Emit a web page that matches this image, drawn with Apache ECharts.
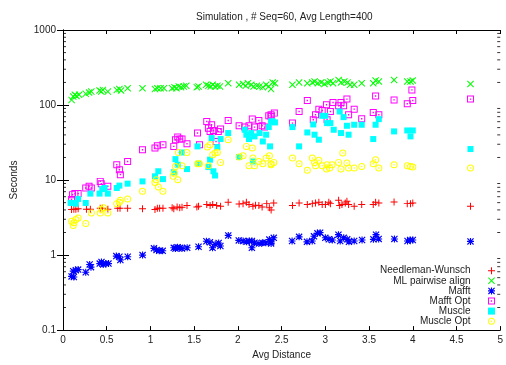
<!DOCTYPE html>
<html>
<head>
<meta charset="utf-8">
<script src="https://cdn.jsdelivr.net/npm/echarts@6/dist/echarts.min.js"></script>
<style>html,body{margin:0;padding:0;background:#fff}#c{width:506px;height:365px}</style>
</head>
<body>
<div id="c"></div>
<script>
var titleText = 'Simulation , # Seq=60, Avg Length=400';
var xName = 'Avg Distance';
var yName = 'Seconds';
var seriesNames = ['Needleman-Wunsch', 'ML pairwise align', 'Mafft', 'Mafft Opt', 'Muscle', 'Muscle Opt'];
var xTicks = [0, 0.5, 1, 1.5, 2, 2.5, 3, 3.5, 4, 4.5, 5];
var yTicks = [0.1, 1, 10, 100, 1000];
var yTickLabels = ['0.1', '1', '10', '100', '1000'];
var yMinorTicks = [0.2,0.3,0.4,0.5,0.6,0.7,0.8,0.9,2,3,4,5,6,7,8,9,20,30,40,50,60,70,80,90,200,300,400,500,600,700,800,900];

var needlemanWunsch = [
[0.098,4.04],[0.124,4.09],[0.147,4.09],[0.173,4.13],[0.268,4.09],[0.313,4.09],[0.426,4.2],[0.449,4.2],[0.513,4.09],[0.626,4.2],[0.652,4.2],[0.739,4.2],[0.909,4.13],[1.052,4.04],[1.079,4.2],[1.105,4.2],[1.143,4.2],
[1.248,4.26],[1.267,4.13],[1.305,4.38],[1.335,4.26],[1.361,4.33],[1.418,4.57],[1.531,4.38],[1.55,4.47],[1.644,4.71],[1.682,4.57],[1.712,4.71],[1.757,4.57],[1.802,4.47],[1.889,5.06],[2.014,4.8],[2.059,4.85],[2.097,5.06],[2.127,4.71],[2.172,4.47],[2.202,4.6],[2.24,4.57],[2.277,4.38],[2.33,4.85],[2.36,4.26],[2.38,4.0],
[2.41,4.95],[2.624,4.57],[2.70,4.95],[2.794,4.71],[2.851,4.85],[2.888,4.95],[2.926,5.06],[2.964,4.71],[3.001,4.71],[3.04,5.06],[3.058,4.85],[3.152,5.37],[3.164,4.57],[3.19,4.71],[3.228,4.95],[3.247,5.2],[3.266,4.71],[3.33,4.47],[3.416,4.71],
[3.548,4.71],[3.575,5.06],[3.612,4.95],[3.786,5.1],[3.937,4.85],[3.974,4.85],[4.0,4.95],[4.66,4.47]
];
var mlPairwise = [
[0.098,117],[0.117,130],[0.136,137],[0.154,132],[0.184,137],[0.26,141],[0.298,147],[0.324,151],[0.418,156],[0.437,151],[0.456,159],[0.513,151],[0.615,159],[0.645,163],[0.664,156],[0.739,167],[0.909,167],[1.052,163],[1.079,167],[1.116,167],[1.154,167],
[1.248,167],[1.275,173],[1.297,167],[1.324,177],[1.35,173],[1.38,177],[1.41,180],[1.53,173],[1.55,177],[1.637,186],[1.663,180],[1.69,177],[1.712,186],[1.739,177],[1.765,180],[1.795,177],[1.889,195],[2.014,186],[2.059,190],[2.089,180],[2.115,195],[2.153,186],[2.18,177],[2.217,180],[2.247,177],[2.285,173],[2.323,186],[2.353,177],[2.379,163],
[2.398,200],[2.424,195],[2.624,186],[2.70,200],[2.794,195],[2.851,200],[2.877,206],[2.915,195],[2.952,200],[2.99,191],[3.028,200],[3.058,206],[3.088,195],[3.152,216],[3.179,200],[3.217,206],[3.254,200],[3.284,186],[3.33,186],[3.416,195],
[3.548,195],[3.575,212],[3.612,206],[3.786,216],[3.937,206],[3.974,206],[4.0,212],[4.66,191]
];
var mafft = [
[0.098,0.52],[0.124,0.51],[0.117,0.61],[0.147,0.63],[0.173,0.64],[0.26,0.59],[0.305,0.75],[0.32,0.69],[0.42,0.77],[0.44,0.81],[0.46,0.75],[0.49,0.77],[0.52,0.77],[0.61,0.97],[0.645,0.95],[0.656,0.86],[0.74,0.95],[0.91,1.0],[1.04,1.23],[1.07,1.17],[1.10,1.14],[1.14,1.14],
[1.267,1.25],[1.286,1.22],[1.31,1.27],[1.34,1.25],[1.36,1.22],[1.42,1.25],[1.55,1.29],[1.64,1.53],[1.68,1.48],[1.71,1.25],[1.74,1.39],[1.78,1.45],[1.80,1.32],[1.89,1.83],[2.01,1.57],[2.06,1.54],[2.10,1.50],[2.13,1.54],[2.16,1.54],[2.16,1.25],[2.19,1.46],[2.24,1.43],[2.28,1.46],[2.32,1.46],[2.36,1.61],[2.38,1.50],
[2.41,1.70],[2.38,1.43],[2.62,1.54],[2.70,1.75],[2.79,1.50],[2.85,1.54],[2.87,1.78],[2.91,1.95],[2.94,1.99],[3.00,1.70],[3.04,1.62],[3.08,1.59],[3.15,1.87],[3.17,1.54],[3.21,1.70],[3.25,1.62],[3.27,1.50],[3.33,1.54],[3.42,1.59],
[3.55,1.62],[3.58,1.87],[3.61,1.64],[3.79,1.64],[3.94,1.54],[3.97,1.59],[4.0,1.59],[4.66,1.52]
];
var mafftOpt = [
[0.098,5.5],[0.109,6.39],[0.136,6.6],[0.173,6.6],[0.26,7.84],[0.298,8.25],[0.324,7.84],[0.426,9.6],[0.437,8.95],[0.513,8.25],[0.615,16.0],[0.645,13.7],[0.656,11.8],[0.739,17.7],[0.909,25.4],[1.052,26.7],[1.079,28.7],[1.143,29.6],
[1.267,28.1],[1.286,34.5],[1.312,37.4],[1.335,35.2],[1.361,35.2],[1.418,30.5],[1.538,42.3],[1.561,29.6],[1.644,60.4],[1.663,49.2],[1.682,44.5],[1.70,54.6],[1.72,45.8],[1.75,32.7],[1.776,44.5],[1.802,47.8],[1.889,62.2],[2.014,52.9],[2.078,50.8],[2.127,52.9],[2.165,64.9],[2.19,50.8],[2.24,62.2],[2.277,52.9],[2.304,50.8],[2.353,71.8],[2.379,74.1],
[2.417,78.0],[2.38,70.3],[2.624,57.4],[2.70,82],[2.794,115],[2.862,63.6],[2.888,74.1],[2.926,88.1],[2.964,84.5],[3.013,101],[3.02,63.6],[3.058,82],[3.088,108],[3.152,97.5],[3.179,108],[3.209,97.5],[3.247,120],[3.266,74.1],[3.33,88.1],[3.416,65.5],
[3.575,132],[3.548,79.6],[3.612,74.1],[3.786,117],[3.937,104],[4.0,115],[3.99,159],[4.66,120]
];
var muscle = [
[0.087,4.95],[0.117,4.95],[0.147,4.85],[0.173,5.6],[0.26,4.95],[0.313,6.6],[0.418,6.6],[0.449,7.6],[0.475,7.84],[0.513,6.6],[0.615,7.84],[0.645,8.43],[0.739,8.95],[0.909,9.6],[1.052,11.2],[1.09,13.1],[1.143,10.3],
[1.267,12.7],[1.286,19.0],[1.312,16.0],[1.361,23.3],[1.418,14.0],[1.538,28.1],[1.55,16.5],[1.663,14.9],[1.682,18.7],[1.70,36.2],[1.72,13.1],[1.739,11.5],[1.765,27.5],[1.802,35.2],[1.889,42.3],[2.014,20.3],[2.078,46.8],[2.097,40.2],[2.127,35.2],[2.153,42.3],[2.172,17.7],[2.19,38.2],[2.247,42.3],[2.285,32.7],[2.323,40.2],[2.353,50.8],[2.368,28.1],[2.379,60.4],
[2.398,60.4],[2.424,58.6],[2.624,50.8],[2.70,28.1],[2.794,43.1],[2.862,55.1],[2.877,40.2],[2.926,34.5],[2.964,71.8],[3.001,71.8],[3.02,57.4],[3.058,57.4],[3.096,46.8],[3.164,82],[3.179,42.3],[3.209,69],[3.247,52.9],[3.266,40.2],[3.33,54.6],[3.416,54.6],
[3.548,35.2],[3.575,54.6],[3.612,64.9],[3.786,44.5],[3.937,45.8],[3.974,38.2],[4.0,45.8],[4.66,25.9]
];
var muscleOpt = [
[0.098,2.82],[0.117,2.48],[0.124,2.69],[0.147,2.97],[0.173,3.13],[0.26,2.63],[0.324,3.65],[0.426,3.65],[0.437,4.09],[0.464,4.26],[0.513,3.65],[0.615,4.85],[0.645,5.06],[0.656,5.37],[0.739,5.6],[0.909,7.08],[1.052,9.3],[1.067,10.1],[1.09,8.07],[1.143,7.08],
[1.26,11.2],[1.275,12.4],[1.286,15.2],[1.312,10.1],[1.32,23.3],[1.361,15.5],[1.418,23.3],[1.538,16.5],[1.561,16.5],[1.652,27.5],[1.663,15.5],[1.682,29.6],[1.712,21.8],[1.739,22.9],[1.765,23.3],[1.802,17.2],[1.889,34.5],[2.014,20.3],[2.059,21.1],[2.097,28.1],[2.127,15.5],[2.165,26.7],[2.172,19.6],[2.19,15.5],[2.24,17.7],[2.285,16.5],[2.323,19.6],[2.36,21.1],[2.379,16.0],
[2.38,16.5],[2.41,17.2],[2.624,19.6],[2.70,16.5],[2.794,13.5],[2.851,19.6],[2.877,17.2],[2.888,15.5],[2.926,18.3],[2.964,15.5],[3.013,14.0],[3.02,16.0],[3.05,14.5],[3.077,16.0],[3.152,17.2],[3.179,14.0],[3.2,22.9],[3.247,16.9],[3.266,14.5],[3.33,14.5],[3.416,15.2],
[3.548,16.5],[3.575,18.7],[3.612,14.5],[3.786,16.0],[3.937,15.5],[3.974,15.2],[4.0,14.9],[4.66,14.5]
];

var seriesData = [needlemanWunsch, mlPairwise, mafft, mafftOpt, muscle, muscleOpt];
var colors = ['#ff0000', '#00ff00', '#0000ff', '#ff00ff', '#00ffff', '#ffff00'];
var symbols = [
  'path://M4.3,0H5.7V4.3H10V5.7H5.7V10H4.3V5.7H0V4.3H4.3Z',
  'path://M0,1L1,0L5,4L9,0L10,1L6,5L10,9L9,10L5,6L1,10L0,9L4,5Z',
  'path://M4.2,0H5.8V4.2H10V5.8H5.8V10H4.2V5.8H0V4.2H4.2Z M0,1.2L1.2,0L10,8.8L8.8,10Z M8.8,0L10,1.2L1.2,10L0,8.8Z',
  'path://M0,0H10V10H0Z M1.4,1.4V8.6H8.6V1.4Z M4,4H6V6H4Z',
  'path://M0,0H10V10H0Z',
  'path://M5,0A5,5,0,1,1,5,10A5,5,0,1,1,5,0Z M5,1.4A3.6,3.6,0,1,0,5,8.6A3.6,3.6,0,1,0,5,1.4Z M5,3.9A1.1,1.1,0,1,1,5,6.1A1.1,1.1,0,1,1,5,3.9Z'
];
var sizes = [7, 7, 7, 7, 6, 7];

var font = "'Liberation Sans', Arial, Helvetica, sans-serif";
var series = seriesData.map(function (d, i) {
  return {
    name: seriesNames[i], type: 'scatter', data: d,
    symbol: symbols[i], symbolSize: sizes[i],
    itemStyle: { color: colors[i], opacity: 1 },
    emphasis: { disabled: true }, silent: true, animation: false
  };
});
// minor log ticks on left and right frame edges, placed through the axes
series.push({
  type: 'scatter', silent: true, animation: false, z: 10, clip: false,
  data: yMinorTicks.map(function (v) { return [0, v]; }),
  symbol: 'rect', symbolSize: [3, 1], symbolOffset: [1.5, 0],
  itemStyle: { color: '#000' }, emphasis: { disabled: true }
});
series.push({
  type: 'scatter', silent: true, animation: false, z: 10, clip: false,
  data: yMinorTicks.map(function (v) { return [5, v]; }),
  symbol: 'rect', symbolSize: [3, 1], symbolOffset: [-1.5, 0],
  itemStyle: { color: '#000' }, emphasis: { disabled: true }
});

var axisLabelStyle = { color: '#222', fontSize: 10, fontFamily: font };
var option = {
  animation: false,
  backgroundColor: '#fff',
  title: { text: titleText, left: 191, top: 7, textStyle: { fontSize: 10, fontWeight: 'normal', color: '#222', fontFamily: font } },
  legend: {
    data: seriesNames, orient: 'vertical', align: 'right', right: 11, top: 265.7, padding: 0,
    itemWidth: 32, itemHeight: 7, itemGap: 0.1, selectedMode: false,
    textStyle: { fontSize: 10, lineHeight: 10, color: '#222', fontFamily: font }
  },
  grid: { left: 63, right: 1, top: 30, bottom: 34, containLabel: false },
  xAxis: [
    { type: 'value', min: 0, max: 5, interval: 0.5, position: 'bottom',
      name: xName, nameLocation: 'middle', nameGap: 19,
      nameTextStyle: { fontSize: 10, color: '#222', fontFamily: font },
      axisLine: { show: true, lineStyle: { color: '#000', width: 1 } },
      axisTick: { show: true, inside: true, length: 4, lineStyle: { color: '#000' } },
      axisLabel: Object.assign({ margin: 5 }, axisLabelStyle),
      splitLine: { show: false } },
    { type: 'value', min: 0, max: 5, interval: 0.5, position: 'top',
      axisLine: { show: true, lineStyle: { color: '#000', width: 1 } },
      axisTick: { show: true, inside: true, length: 4, lineStyle: { color: '#000' } },
      axisLabel: { show: false }, splitLine: { show: false } }
  ],
  yAxis: [
    { type: 'log', logBase: 10, min: yTicks[0], max: yTicks[yTicks.length - 1], position: 'left',
      name: yName, nameLocation: 'middle', nameGap: 44, nameRotate: 90,
      nameTextStyle: { fontSize: 10, color: '#222', fontFamily: font },
      axisLine: { show: true, lineStyle: { color: '#000', width: 1 } },
      axisTick: { show: true, inside: true, length: 6, lineStyle: { color: '#000' } },
      axisLabel: Object.assign({ margin: 7, formatter: function (v) {
        for (var i = 0; i < yTicks.length; i++) { if (Math.abs(v - yTicks[i]) < 1e-6 * yTicks[i]) return yTickLabels[i]; }
        return String(v);
      } }, axisLabelStyle),
      splitLine: { show: false } },
    { type: 'log', logBase: 10, min: yTicks[0], max: yTicks[yTicks.length - 1], position: 'right',
      axisLine: { show: true, lineStyle: { color: '#000', width: 1 } },
      axisTick: { show: true, inside: true, length: 6, lineStyle: { color: '#000' } },
      axisLabel: { show: false }, splitLine: { show: false } }
  ],
  series: series
};
var chart = echarts.init(document.getElementById('c'), null, { renderer: 'canvas' });
chart.setOption(option);
</script>
</body>
</html>
